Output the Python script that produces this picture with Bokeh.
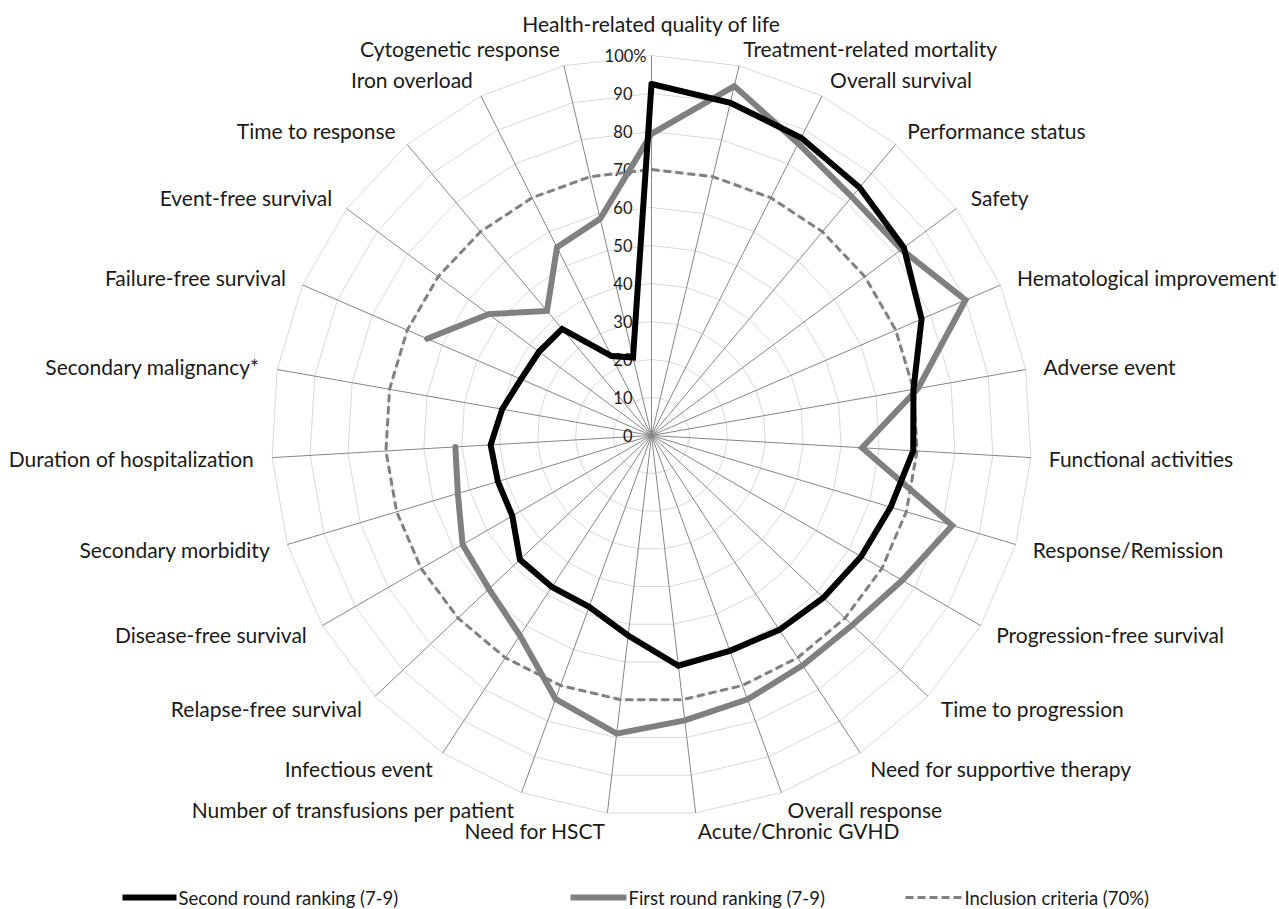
import numpy as np
from bokeh.plotting import figure
from bokeh.models import Range1d
from bokeh.core.properties import value
from bokeh.embed import file_html
from bokeh.resources import INLINE

# ---------------- data ----------------
categories = [
    "Health-related quality of life", "Treatment-related mortality", "Overall survival",
    "Performance status", "Safety", "Hematological improvement", "Adverse event",
    "Functional activities", "Response/Remission", "Progression-free survival",
    "Time to progression", "Need for supportive therapy", "Overall response",
    "Acute/Chronic GVHD", "Need for HSCT", "Number of transfusions per patient",
    "Infectious event", "Relapse-free survival", "Disease-free survival",
    "Secondary morbidity", "Duration of hospitalization", "Secondary malignancy*",
    "Failure-free survival", "Event-free survival", "Time to response",
    "Iron overload", "Cytogenetic response",
]
second_round = [92.5, 90.0, 87.7, 85.2, 82.8, 77.4, 70.0, 69.0, 65.7, 63.7, 62.2, 61.2,
                60.3, 61.0, 53.0, 48.0, 47.7, 47.6, 42.3, 42.2, 42.4, 39.9, 37.4, 36.9,
                36.6, 23.4, 21.1]
first_round = [79.4, 94.5, 86.0, 82.0, 82.0, 90.0, 71.2, 55.5, 82.6, 76.2, 72.7, 72.4,
               73.9, 75.5, 79.0, 73.8, 63.0, 58.8, 57.4, 53.2, 51.7, None, 64.3, 53.5,
               42.8, 55.4, 58.6]
inclusion_level = 70
tick_values = [0, 10, 20, 30, 40, 50, 60, 70, 80, 90, 100]
tick_labels = ["0", "10", "20", "30", "40", "50", "60", "70", "80", "90", "100%"]
series_names = ["Second round ranking (7-9)", "First round ranking (7-9)",
                "Inclusion criteria (70%)"]

# ---------------- layout ----------------
W, H = 1279, 909
PX = 3.8            # pixels per percentage point
CX, CY = 651, 435   # pixel position of the radar centre
FONT = value("Lato")
TXT = "#1a1a1a"


def sx_(xs):
    """pixel x -> data x"""
    return (xs - CX) / PX


def sy_(ys):
    """pixel y -> data y"""
    return (CY - ys) / PX


p = figure(width=W, height=H,
           x_range=Range1d(-CX / PX, (W - CX) / PX),
           y_range=Range1d(-(H - CY) / PX, CY / PX),
           output_backend="svg", toolbar_location=None, min_border=0)
p.axis.visible = False
p.grid.visible = False
p.outline_line_color = None
p.background_fill_color = "white"
p.border_fill_color = "white"

n = len(categories)
theta = np.arange(n) * 2 * np.pi / n
ux, uy = np.sin(theta), np.cos(theta)

# ring gridlines
for v in tick_values[1:]:
    p.line(np.append(v * ux, v * ux[0]), np.append(v * uy, v * uy[0]),
           line_color="#d9d9d9", line_width=1)
# spokes
rmax = tick_values[-1]
p.segment(x0=np.zeros(n), y0=np.zeros(n), x1=rmax * ux, y1=rmax * uy,
          line_color="#868686", line_width=1)

# tick labels
p.text(x=[-19 / PX] * (len(tick_values) - 1), y=tick_values[:-1], text=tick_labels[:-1],
       text_align="right", text_baseline="middle", text_font=FONT,
       text_font_size="16.5px", text_color=TXT)
p.text(x=[-5 / PX], y=[tick_values[-1]], text=[tick_labels[-1]],
       text_align="right", text_baseline="middle", text_font=FONT,
       text_font_size="16.5px", text_color=TXT)

# inclusion criteria (dashed)
inc = np.full(n, float(inclusion_level))
p.line(np.append(inc * ux, inc[0] * ux[0]), np.append(inc * uy, inc[0] * uy[0]),
       line_color="#808080", line_width=3, line_dash="8 4")

# first round (gap at missing value)
start = [i for i in range(n) if first_round[i - 1] is None]
if start:
    s = start[0]
    order = [(s + k) % n for k in range(n) if first_round[(s + k) % n] is not None]
else:
    order = list(range(n)) + [0]
fr = np.array([first_round[i] for i in order], dtype=float)
p.line(fr * ux[order], fr * uy[order], line_color="#808080", line_width=6,
       line_join="miter", line_cap="round")

# second round
sr = np.array(second_round + [second_round[0]], dtype=float)
idx = list(range(n)) + [0]
p.line(sr * ux[idx], sr * uy[idx], line_color="#000000", line_width=6,
       line_join="miter", line_cap="round")

# category labels
lab_r = rmax + 18 / PX
for align, mask in (("left", ux > 1e-6), ("right", ux < -1e-6)):
    ii = np.where(mask)[0]
    p.text(x=lab_r * ux[ii], y=lab_r * uy[ii], text=[categories[i] for i in ii],
           text_align=align, text_baseline="middle", text_font=FONT,
           text_font_size="21px", text_color=TXT)
ii = np.where(np.abs(ux) <= 1e-6)[0]
p.text(x=(rmax + 32 / PX) * ux[ii], y=(rmax + 32 / PX) * uy[ii],
       text=[categories[i] for i in ii], text_align="center", text_baseline="middle",
       text_font=FONT, text_font_size="21px", text_color=TXT)

# legend (drawn manually)
ly = sy_(897)
leg = [(122, 176, "#000000", 6, "solid"), (570, 626, "#808080", 6, "solid"),
       (905, 962, "#808080", 3, "8 4")]
for (x0, x1, col, lw, dash), name in zip(leg, series_names):
    p.line([sx_(x0), sx_(x1)], [ly, ly], line_color=col, line_width=lw, line_dash=dash)
    p.text(x=[sx_(x1 + 2)], y=[ly], text=[name], text_align="left",
           text_baseline="middle", text_font=FONT, text_font_size="18.5px",
           text_color=TXT)

open("out.html", "w").write(file_html(p, INLINE))
